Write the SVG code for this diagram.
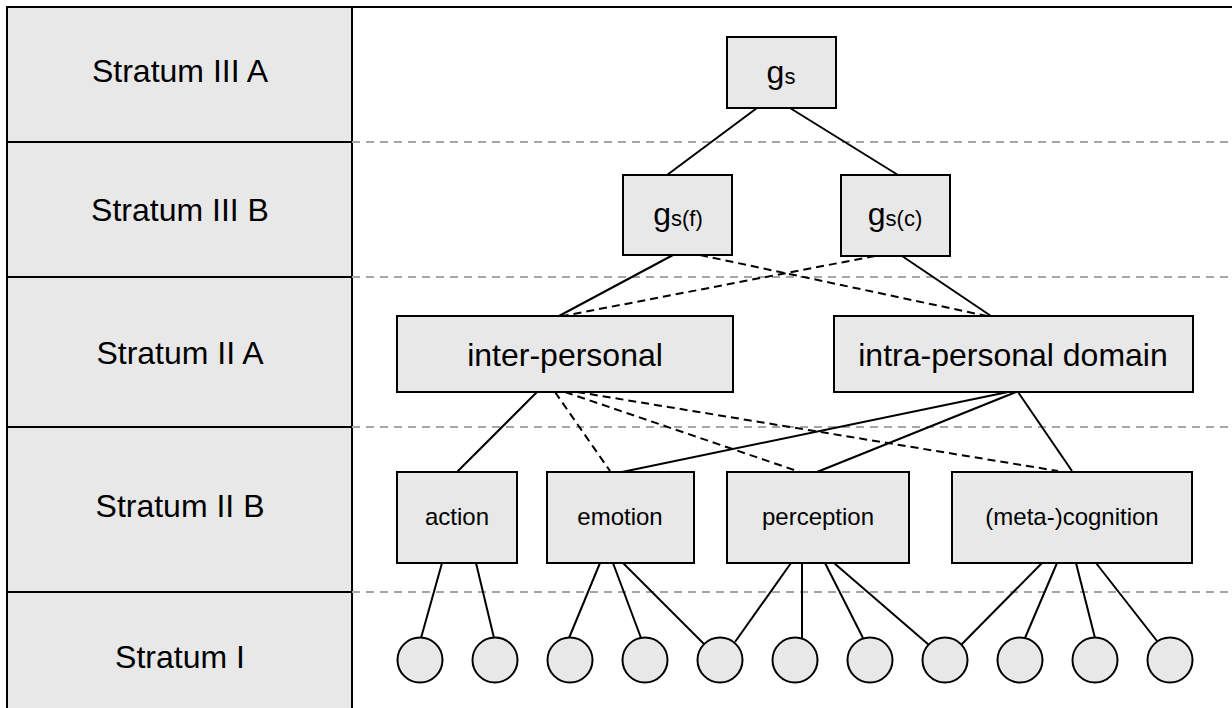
<svg xmlns="http://www.w3.org/2000/svg" width="1232" height="708" viewBox="0 0 1232 708">
<style>
  .bg{fill:#ffffff}
  .box{fill:#e8e8e8;stroke:#000;stroke-width:2}
  .col{fill:#e8e8e8;stroke:#000;stroke-width:2}
  .sep{stroke:#a6a6a6;stroke-width:2;stroke-dasharray:8,6;fill:none}
  .solid{stroke:#000;stroke-width:2;fill:none}
  .dash{stroke:#000;stroke-width:2;stroke-dasharray:8,5;fill:none}
  .lbl{font-family:"Liberation Sans",Arial,sans-serif;font-size:24px;fill:#000;text-anchor:middle}
  .big{font-family:"Liberation Sans",Arial,sans-serif;font-size:32px;fill:#000;text-anchor:middle}
  .sub{font-size:22px}
</style>
<rect class="bg" x="0" y="0" width="1232" height="708"/>

<g id="strata">
  <rect class="col" x="7" y="7" width="345" height="720"/>
  <line class="solid" x1="7" y1="142" x2="352" y2="142"/>
  <line class="solid" x1="7" y1="277" x2="352" y2="277"/>
  <line class="solid" x1="7" y1="427" x2="352" y2="427"/>
  <line class="solid" x1="7" y1="592" x2="352" y2="592"/>
  <line class="solid" x1="352" y1="7" x2="1232" y2="7"/>
  <text class="big" x="180" y="82">Stratum III A</text>
  <text class="big" x="180" y="221">Stratum III B</text>
  <text class="big" x="180" y="364">Stratum II A</text>
  <text class="big" x="180" y="517">Stratum II B</text>
  <text class="big" x="180" y="668">Stratum I</text>
</g>

<g id="separators">
  <line class="sep" x1="352" y1="142" x2="1232" y2="142"/>
  <line class="sep" x1="352" y1="277" x2="1232" y2="277"/>
  <line class="sep" x1="352" y1="427" x2="1232" y2="427"/>
  <line class="sep" x1="352" y1="592" x2="1232" y2="592"/>
</g>

<g id="connectors">
  <line class="solid" x1="757" y1="108" x2="667" y2="175"/>
  <line class="solid" x1="790" y1="108" x2="898" y2="175"/>
  <line class="solid" x1="673" y1="255" x2="559" y2="316"/>
  <line class="dash" x1="700" y1="255" x2="987" y2="316"/>
  <line class="dash" x1="875" y1="256" x2="563" y2="316"/>
  <line class="solid" x1="902" y1="256" x2="991" y2="316"/>

  <line class="solid" x1="537" y1="392" x2="457" y2="472"/>
  <line class="dash" x1="555" y1="392" x2="610" y2="471"/>
  <line class="dash" x1="565" y1="392" x2="800" y2="472"/>
  <line class="dash" x1="577" y1="392" x2="1058" y2="471"/>
  <line class="solid" x1="1008" y1="392" x2="622" y2="472"/>
  <line class="solid" x1="1016" y1="392" x2="817" y2="472"/>
  <line class="solid" x1="1018" y1="392" x2="1072" y2="471"/>

  <line class="solid" x1="442" y1="563" x2="421" y2="638"/>
  <line class="solid" x1="476" y1="563" x2="494" y2="638"/>
  <line class="solid" x1="600" y1="563" x2="569" y2="638"/>
  <line class="solid" x1="613" y1="563" x2="641" y2="638"/>
  <line class="solid" x1="623" y1="563" x2="704" y2="644"/>
  <line class="solid" x1="791" y1="563" x2="735" y2="642"/>
  <line class="solid" x1="802" y1="563" x2="802" y2="639"/>
  <line class="solid" x1="825" y1="563" x2="863" y2="638"/>
  <line class="solid" x1="834" y1="563" x2="929" y2="645"/>
  <line class="solid" x1="1042" y1="563" x2="961" y2="645"/>
  <line class="solid" x1="1057" y1="563" x2="1025" y2="638"/>
  <line class="solid" x1="1076" y1="563" x2="1095" y2="638"/>
  <line class="solid" x1="1096" y1="563" x2="1157" y2="641"/>
</g>

<g id="n-gs">
  <rect class="box" x="727" y="37" width="109" height="71"/>
  <text class="big" x="781" y="83">g<tspan class="sub" dy="1">s</tspan></text>
</g>
<g id="n-gsf">
  <rect class="box" x="623" y="175" width="109" height="80"/>
  <text class="big" x="678" y="225">g<tspan class="sub" dy="1">s(f)</tspan></text>
</g>
<g id="n-gsc">
  <rect class="box" x="841" y="175" width="109" height="81"/>
  <text class="big" x="895" y="225">g<tspan class="sub" dy="1">s(c)</tspan></text>
</g>
<g id="n-inter">
  <rect class="box" x="397" y="316" width="336" height="76"/>
  <text class="big" x="565" y="366">inter-personal</text>
</g>
<g id="n-intra">
  <rect class="box" x="834" y="316" width="359" height="76"/>
  <text class="big" x="1013" y="366">intra-personal domain</text>
</g>
<g id="n-action">
  <rect class="box" x="397" y="472" width="120" height="91"/>
  <text class="lbl" x="457" y="525">action</text>
</g>
<g id="n-emotion">
  <rect class="box" x="547" y="472" width="147" height="91"/>
  <text class="lbl" x="620" y="525">emotion</text>
</g>
<g id="n-perception">
  <rect class="box" x="727" y="472" width="182" height="91"/>
  <text class="lbl" x="818" y="525">perception</text>
</g>
<g id="n-cognition">
  <rect class="box" x="952" y="472" width="240" height="91"/>
  <text class="lbl" x="1072" y="525">(meta-)cognition</text>
</g>

<g id="n-c1"><circle class="box" cx="420" cy="660" r="22.5"/></g>
<g id="n-c2"><circle class="box" cx="495" cy="660" r="22.5"/></g>
<g id="n-c3"><circle class="box" cx="570" cy="660" r="22.5"/></g>
<g id="n-c4"><circle class="box" cx="645" cy="660" r="22.5"/></g>
<g id="n-c5"><circle class="box" cx="720" cy="660" r="22.5"/></g>
<g id="n-c6"><circle class="box" cx="795" cy="660" r="22.5"/></g>
<g id="n-c7"><circle class="box" cx="870" cy="660" r="22.5"/></g>
<g id="n-c8"><circle class="box" cx="945" cy="660" r="22.5"/></g>
<g id="n-c9"><circle class="box" cx="1020" cy="660" r="22.5"/></g>
<g id="n-c10"><circle class="box" cx="1095" cy="660" r="22.5"/></g>
<g id="n-c11"><circle class="box" cx="1170" cy="660" r="22.5"/></g>
</svg>
